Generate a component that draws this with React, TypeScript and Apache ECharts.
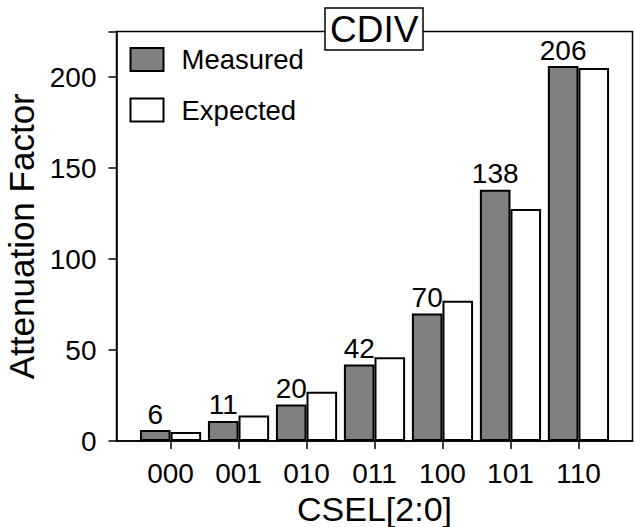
import React, { useEffect, useRef } from "react";
import * as echarts from "echarts";

const categories = ["000", "001", "010", "011", "100", "101", "110"];
const measured = [6, 11, 20, 42, 70, 138, 206];
const expected = [5, 14, 27, 46, 77, 127.5, 205];
const yTicks = [0, 50, 100, 150, 200];

const FONT = "'Liberation Sans', Arial, sans-serif";

export default function App() {
  const ref = useRef<HTMLDivElement>(null);
  useEffect(() => {
    document.body.style.margin = "0";
    const chart = echarts.init(ref.current!, null, { renderer: "svg" });
    const off = 0.225;
    const tickPos = categories.map((_, i) => i);
    chart.setOption({
      animation: false,
      backgroundColor: "#ffffff",
      textStyle: { fontFamily: FONT, color: "#000" },
      title: {
        text: "CDIV",
        left: 325,
        top: 8,
        padding: [3, 5, 2, 5],
        borderColor: "#000",
        borderWidth: 1.5,
        backgroundColor: "#fff",
        z: 20,
        textStyle: { fontFamily: FONT, fontSize: 37, fontWeight: "normal", color: "#000" },
      },
      legend: {
        orient: "vertical",
        left: 129.5,
        top: 45.5,
        padding: 0,
        itemWidth: 33,
        itemHeight: 23,
        itemGap: 22.6,
        icon: "rect",
        data: ["Measured", "Expected"],
        textStyle: { fontFamily: FONT, fontSize: 27.5, color: "#000", padding: [0, 0, 0, 13] },
      },
      grid: {
        left: 116.5,
        right: 2.5,
        top: 31.5,
        bottom: 86,
        outerBoundsMode: "none",
        containLabel: false,
        show: true,
        borderColor: "#000",
        borderWidth: 1.5,
        backgroundColor: "transparent",
      },
      xAxis: {
        type: "value",
        min: -0.795,
        max: 6.795,
        name: "CSEL[2:0]",
        nameLocation: "middle",
        nameGap: 44,
        nameTextStyle: { fontFamily: FONT, fontSize: 34, color: "#000" },
        axisLine: { show: true, onZero: false, lineStyle: { color: "#000", width: 1.5 } },
        axisTick: {
          show: true,
          length: 8,
          customValues: tickPos,
          lineStyle: { color: "#000", width: 1.5 },
        },
        axisLabel: {
          customValues: tickPos,
          formatter: (v: number) => categories[Math.round(v)] ?? "",
          fontFamily: FONT,
          fontSize: 28,
          color: "#000",
          margin: 18,
        },
        splitLine: { show: false },
      },
      yAxis: {
        type: "value",
        min: 0,
        max: 225,
        interval: 50,
        name: "Attenuation Factor",
        nameLocation: "middle",
        nameGap: 66,
        nameTextStyle: { fontFamily: FONT, fontSize: 35, color: "#000" },
        axisLine: { show: true, onZero: false, lineStyle: { color: "#000", width: 1.5 } },
        axisTick: { show: true, length: 8, lineStyle: { color: "#000", width: 1.5 } },
        axisLabel: {
          fontFamily: FONT,
          fontSize: 28,
          color: "#000",
          margin: 20,
          formatter: (v: number) => (yTicks.includes(v) ? String(v) : ""),
        },
        splitLine: { show: false },
      },
      series: [
        {
          name: "Measured",
          type: "bar",
          barWidth: 30.6,
          barGap: "-100%",
          data: measured.map((v, i) => [i - off, v]),
          itemStyle: { color: "#808080", borderColor: "#000", borderWidth: 2 },
          label: {
            show: true,
            position: "top",
            distance: 2,
            fontFamily: FONT,
            fontSize: 28,
            color: "#000",
            formatter: (p: any) => String(p.value[1]),
          },
        },
        {
          name: "Expected",
          type: "bar",
          barWidth: 30.6,
          barGap: "-100%",
          data: expected.map((v, i) => [i + off, v]),
          itemStyle: { color: "#ffffff", borderColor: "#000", borderWidth: 2 },
        },
      ],
    });
    return () => chart.dispose();
  }, []);
  return (
    <div
      ref={ref}
      style={{ position: "absolute", left: 0, top: 0, width: 635, height: 527 }}
    />
  );
}
